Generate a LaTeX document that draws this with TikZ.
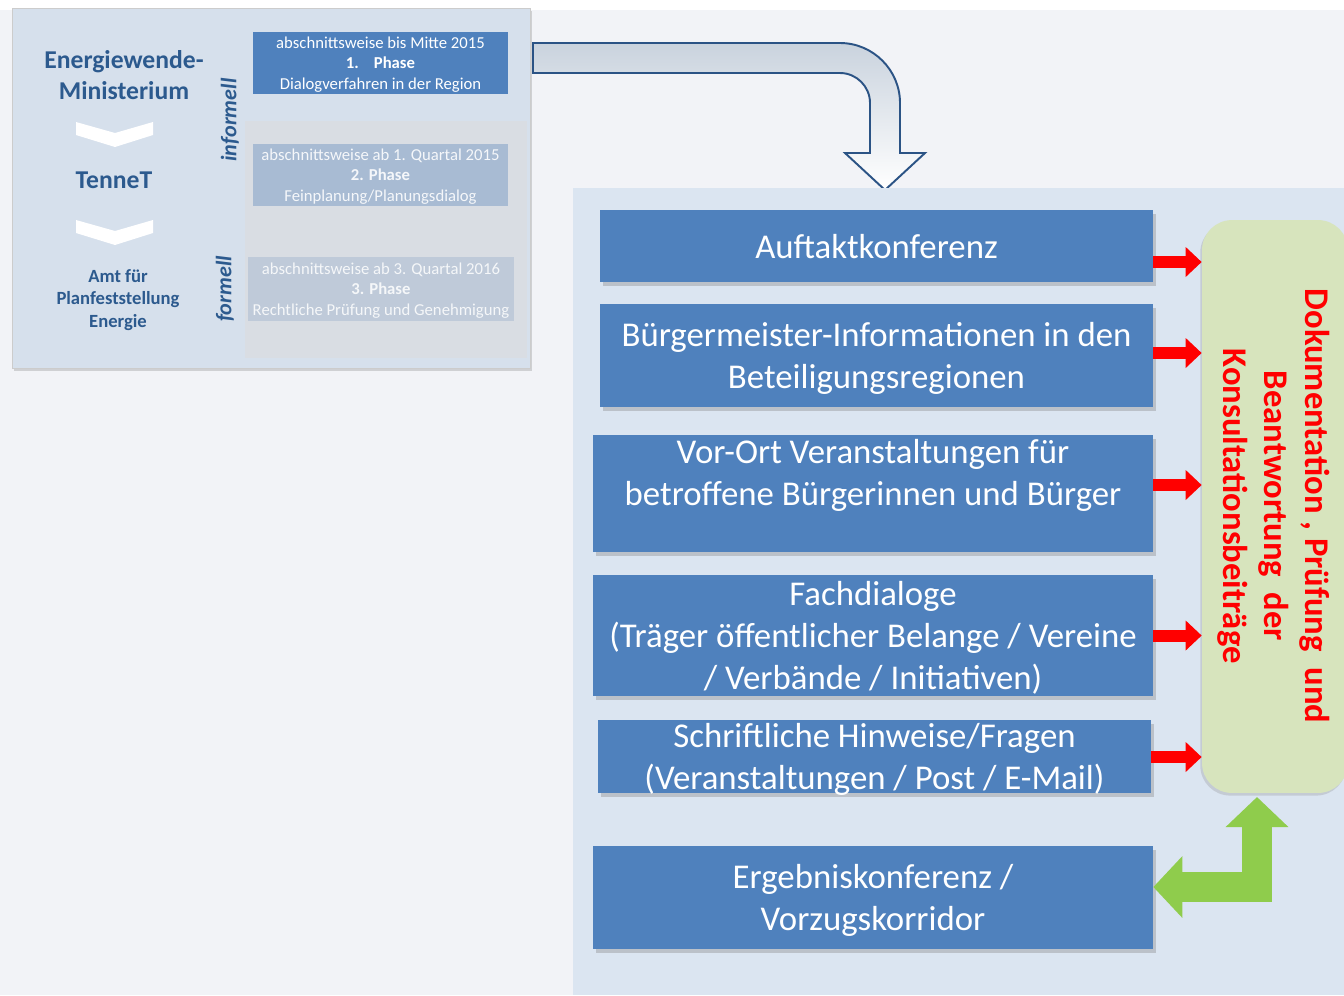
\documentclass[tikz,border=0pt]{standalone}
\usepackage{fontspec}
\setmainfont{Carlito}
\usepackage{tikz}
\usetikzlibrary{arrows.meta,shadows}

\definecolor{boxblue}{HTML}{4F81BD}
\definecolor{panelblue}{HTML}{DBE5F1}
\definecolor{leftpanel}{HTML}{D6E0EC}
\definecolor{phasegray}{HTML}{D9DDE3}
\definecolor{phasetwo}{HTML}{A8BBD3}
\definecolor{phasethree}{HTML}{BFCAD9}
\definecolor{darkblue}{HTML}{2C5A8E}
\definecolor{arrowblue}{HTML}{2B5385}
\definecolor{docgreen}{HTML}{D7E4BD}
\definecolor{arrowgreen}{HTML}{8FCC4C}
\definecolor{pagebg}{HTML}{F2F3F7}

\begin{document}
\begin{tikzpicture}[x=0.02cm, y=-0.02cm,
			stepbox/.style={fill=boxblue, text=white, align=center, inner sep=0pt, text depth=0pt,
				font=\fontsize{19.8}{23.9}\selectfont,
				drop shadow={shadow xshift=1.5pt, shadow yshift=-2pt, opacity=.35}},
			phasebox/.style={minimum width=5.1cm, minimum height=1.24cm, inner sep=0pt, text depth=0pt,
				align=center, font=\fontsize{9.5}{11.7}\selectfont},
			sidetext/.style={text=darkblue, align=center, inner sep=0pt},
			redarrow/.style={draw=red, line width=0.24cm, -{Triangle[length=0.32cm, width=0.58cm]}},
			greenarrow/.style={draw=arrowgreen, line width=0.6cm, line join=miter,
				{Triangle[length=0.58cm, width=1.2cm]}-{Triangle[length=0.6cm, width=1.22cm]}}]
			
			\useasboundingbox (0,0) rectangle (1344,995);
			\fill[pagebg] (0,0) rectangle (1344,995);
			\fill[white] (0,0) rectangle (1344,10);
			
			% Left panel with the phases
			\node[draw=black!20, fill=leftpanel, minimum width=10.36cm, minimum height=7.2cm,
				drop shadow={shadow xshift=1pt, shadow yshift=-1.5pt, opacity=.3}] (panel) at (271,188) {};
			\fill[phasegray] (245,121) rectangle (527,358);
			
			\node[phasebox, fill=boxblue, text=white] (P1) at (380.5,63)
				{abschnittsweise bis Mitte 2015\\\textbf{1.\hspace{0.9em}Phase}\\Dialogverfahren in der Region};
			\node[phasebox, fill=phasetwo, text=white!88!phasetwo] (P2) at (380.5,175)
				{abschnittsweise ab 1. Quartal 2015\\\textbf{2. Phase}\\Feinplanung/Planungsdialog};
			\node[phasebox, fill=phasethree, text=white!85!phasethree, minimum width=5.32cm, minimum height=1.28cm] (P3) at (381,289)
				{abschnittsweise ab 3. Quartal 2016\\\textbf{3. Phase}\\Rechtliche Prüfung und Genehmigung};
			
			\node[sidetext, font=\bfseries\fontsize{14.6}{17.6}\selectfont] (minist) at (124,75.5) {Energiewende-\\Ministerium};
			\node[sidetext, font=\bfseries\fontsize{14.6}{17.6}\selectfont] (tennet) at (114,180) {TenneT};
			\node[sidetext, font=\bfseries\fontsize{10.6}{12.8}\selectfont] (amt) at (118,300) {Amt für\\Planfeststellung\\Energie};
			\node[sidetext, rotate=90, font=\bfseries\itshape\fontsize{12.6}{14}\selectfont] (inf) at (230,120) {informell};
			\node[sidetext, rotate=90, font=\bfseries\itshape\fontsize{12.6}{14}\selectfont] (form) at (225,289) {formell};
			
			% chevrons between the names
			\foreach \dy in {0,98}
				\fill[white] (76,122+\dy) -- (115,133+\dy) -- (153,122+\dy) -- (153,135+\dy) -- (115,147+\dy) -- (76,135+\dy) -- cycle;
			
			% Bent arrow to the right panel
			\draw[arrowblue, line width=1.1pt, top color=black!8!panelblue, bottom color=white]
				(533,43) -- (840,43) .. controls (873,43) and (900,70) .. (900,103) -- (900,153) -- (925,153)
				-- (885,190) -- (845,153) -- (870,153) -- (870,103) .. controls (870,86.5) and (856.5,73) .. (840,73)
				-- (533,73) -- cycle;
			
			% Right panel
			\fill[panelblue] (573,188) rectangle (1344,995);
			
			% Define the steps
			\node[stepbox, minimum width=11.06cm, minimum height=1.44cm] (B1) at (876.5,246) {Auftaktkonferenz};
			\node[stepbox, minimum width=11.06cm, minimum height=2.06cm] (B2) at (876.5,355.5) {Bürgermeister-Informationen in den\\Beteiligungsregionen};
			\node[stepbox, minimum width=11.2cm, minimum height=2.34cm] (B3) at (873,493.5) {Vor-Ort Veranstaltungen für\\betroffene Bürgerinnen und Bürger\\\mbox{}};
			\node[stepbox, minimum width=11.2cm, minimum height=2.42cm] (B4) at (873,635.5) {Fachdialoge\\(Träger öffentlicher Belange / Vereine\\/ Verbände / Initiativen)};
			\node[stepbox, minimum width=11.06cm, minimum height=1.46cm] (B5) at (874.5,756.5) {Schriftliche Hinweise/Fragen\\(Veranstaltungen / Post / E-Mail)};
			\node[stepbox, minimum width=11.2cm, minimum height=2.06cm] (B6) at (873,897.5) {Ergebniskonferenz /\\Vorzugskorridor};
			
			% Documentation box
			\node[fill=docgreen, rounded corners=0.6cm, minimum width=2.92cm, minimum height=11.46cm, inner sep=0pt,
				drop shadow={shadow xshift=-1pt, shadow yshift=-1.5pt, opacity=.25}] (doc) at (1275,506.5) {};
			\node[rotate=-90, text=red, align=center, inner sep=0pt, font=\bfseries\fontsize{19.7}{23.3}\selectfont] (doclabel) at (1274,506)
				{Dokumentation , Prüfung \ und\\Beantwortung \ der\\Konsultationsbeiträge};
			
			% Arrows into the documentation box
			\foreach \b/\s in {B1/-0.32, B2/0.05, B3/0.17, B4/0, B5/-0.01} {
				\coordinate (r) at ([yshift=\s cm]\b.east);
				\draw[redarrow] (r) -- (r -| doc.west);
			}
			
			% Back to the result conference
			\coordinate (gu) at (1257,797);
			\draw[greenarrow] ([yshift=0.21cm]B6.east) -| (gu);
		\end{tikzpicture}
\end{document}
